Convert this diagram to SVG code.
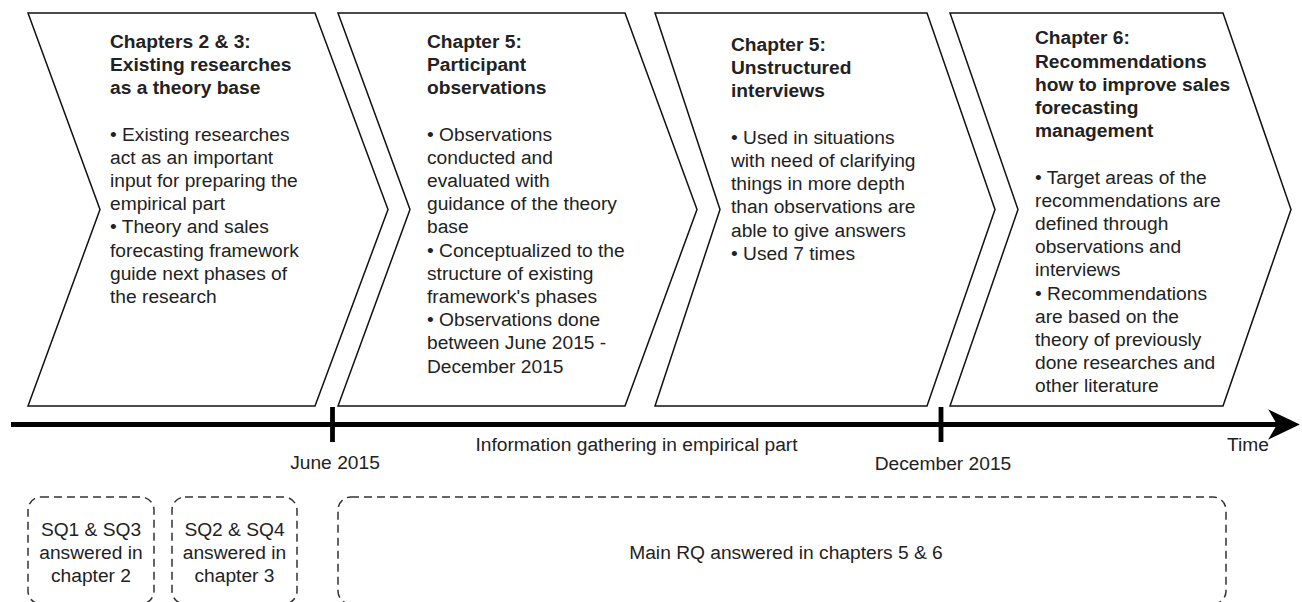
<svg xmlns="http://www.w3.org/2000/svg" width="1302" height="602" viewBox="0 0 1302 602">
<style>
.chev{fill:#fff;stroke:#111;stroke-width:1.5;stroke-linejoin:miter}
.t{font-family:"Liberation Sans",Arial,sans-serif;font-size:19.2px;fill:#222}
.b{font-weight:bold}
.dash{fill:none;stroke:#333;stroke-width:1.5;stroke-dasharray:8 5}
.axis{stroke:#000;stroke-width:4.8;fill:none}
.tick{stroke:#000;stroke-width:4.8}
.c{text-anchor:middle}
</style>
<rect width="1302" height="602" fill="#fff"/>
<g id="phase1">
<polygon class="chev" points="28,13 315,13 388,209.5 315,406 28,406 100,209.5"/>
<text class="t" x="110" y="47.7"><tspan class="b" x="110">Chapters 2 &amp; 3:</tspan><tspan class="b" x="110" dy="23.2">Existing researches</tspan><tspan class="b" x="110" dy="23.2">as a theory base</tspan><tspan x="110" dy="46.4">• Existing researches</tspan><tspan x="110" dy="23.2">act as an important</tspan><tspan x="110" dy="23.2">input for preparing the</tspan><tspan x="110" dy="23.2">empirical part</tspan><tspan x="110" dy="23.2">• Theory and sales</tspan><tspan x="110" dy="23.2">forecasting framework</tspan><tspan x="110" dy="23.2">guide next phases of</tspan><tspan x="110" dy="23.2">the research</tspan></text>
</g>
<g id="phase2">
<polygon class="chev" points="338,13 625,13 697,209.5 625,406 338,406 410,209.5"/>
<text class="t" x="427" y="47.7"><tspan class="b" x="427">Chapter 5:</tspan><tspan class="b" x="427" dy="23.2">Participant</tspan><tspan class="b" x="427" dy="23.2">observations</tspan><tspan x="427" dy="46.4">• Observations</tspan><tspan x="427" dy="23.2">conducted and</tspan><tspan x="427" dy="23.2">evaluated with</tspan><tspan x="427" dy="23.2">guidance of the theory</tspan><tspan x="427" dy="23.2">base</tspan><tspan x="427" dy="23.2">• Conceptualized to the</tspan><tspan x="427" dy="23.2">structure of existing</tspan><tspan x="427" dy="23.2">framework's phases</tspan><tspan x="427" dy="23.2">• Observations done</tspan><tspan x="427" dy="23.2">between June 2015 -</tspan><tspan x="427" dy="23.2">December 2015</tspan></text>
</g>
<g id="phase3">
<polygon class="chev" points="655,13 927,13 995,209.5 927,406 655,406 720,209.5"/>
<text class="t" x="731" y="51"><tspan class="b" x="731">Chapter 5:</tspan><tspan class="b" x="731" dy="23.2">Unstructured</tspan><tspan class="b" x="731" dy="23.2">interviews</tspan><tspan x="731" dy="46.4">• Used in situations</tspan><tspan x="731" dy="23.2">with need of clarifying</tspan><tspan x="731" dy="23.2">things in more depth</tspan><tspan x="731" dy="23.2">than observations are</tspan><tspan x="731" dy="23.2">able to give answers</tspan><tspan x="731" dy="23.2">• Used 7 times</tspan></text>
</g>
<g id="phase4">
<polygon class="chev" points="950,13 1223,13 1291,209.5 1223,406 950,406 1018,209.5"/>
<text class="t" x="1035" y="44.3"><tspan class="b" x="1035">Chapter 6:</tspan><tspan class="b" x="1035" dy="23.2">Recommendations</tspan><tspan class="b" x="1035" dy="23.2">how to improve sales</tspan><tspan class="b" x="1035" dy="23.2">forecasting</tspan><tspan class="b" x="1035" dy="23.2">management</tspan><tspan x="1035" dy="46.4">• Target areas of the</tspan><tspan x="1035" dy="23.2">recommendations are</tspan><tspan x="1035" dy="23.2">defined through</tspan><tspan x="1035" dy="23.2">observations and</tspan><tspan x="1035" dy="23.2">interviews</tspan><tspan x="1035" dy="23.2">• Recommendations</tspan><tspan x="1035" dy="23.2">are based on the</tspan><tspan x="1035" dy="23.2">theory of previously</tspan><tspan x="1035" dy="23.2">done researches and</tspan><tspan x="1035" dy="23.2">other literature</tspan></text>
</g>
<g id="connectors">
<line class="axis" x1="11" y1="424.5" x2="1278" y2="424.5"/>
<polygon points="1298,424.5 1270,411 1278,424.5 1270,438" fill="#000" stroke="#000" stroke-width="1.5"/>
<line class="tick" x1="332.5" y1="407" x2="332.5" y2="442"/>
<line class="tick" x1="941" y1="407" x2="941" y2="442"/>
</g>
<g id="timeline-labels">
<text class="t c" x="636.5" y="451">Information gathering in empirical part</text>
<text class="t" x="1227" y="451">Time</text>
<text class="t c" x="335" y="469">June 2015</text>
<text class="t c" x="943" y="470">December 2015</text>
</g>
<g id="box1">
<rect class="dash" x="28" y="497" width="126" height="107" rx="13"/>
<text class="t c" x="91" y="536"><tspan x="91">SQ1 &amp; SQ3</tspan><tspan x="91" dy="23">answered in</tspan><tspan x="91" dy="23">chapter 2</tspan></text>
</g>
<g id="box2">
<rect class="dash" x="172" y="497" width="125" height="107" rx="13"/>
<text class="t c" x="234.5" y="536"><tspan x="234.5">SQ2 &amp; SQ4</tspan><tspan x="234.5" dy="23">answered in</tspan><tspan x="234.5" dy="23">chapter 3</tspan></text>
</g>
<g id="box3">
<rect class="dash" x="338" y="497" width="888" height="107" rx="13"/>
<text class="t c" x="786" y="559">Main RQ answered in chapters 5 &amp; 6</text>
</g>
</svg>
